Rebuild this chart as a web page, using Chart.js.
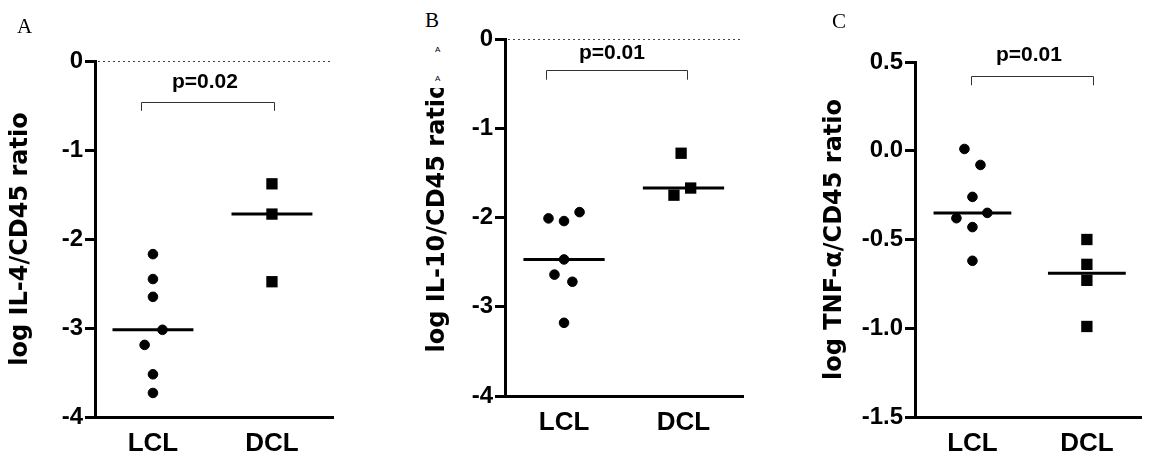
<!DOCTYPE html>
<html>
<head>
<meta charset="utf-8">
<script src="https://cdn.jsdelivr.net/npm/chart.js@4"></script>
<style>
  body { margin: 0; background: #fff; }
  #wrap { position: relative; width: 1149px; height: 461px; overflow: hidden; background: #fff; }
  canvas { position: absolute; top: 0; }
  .panel { position: absolute; font-family: "Liberation Serif", "Times New Roman", serif; font-size: 21px; line-height: 1; color: #000; z-index: 3; }
  .tiny { position: absolute; font-family: "Liberation Sans", Arial, sans-serif; font-size: 8px; line-height: 1; color: #000; z-index: 3; }
  #mask { position: absolute; left: 420px; top: 0; width: 45px; height: 88px; background: #fff; z-index: 2; }
</style>
</head>
<body>
<div id="wrap">
  <canvas id="chartA" width="380" height="461" style="left:0"></canvas>
  <canvas id="chartB" width="380" height="461" style="left:380px"></canvas>
  <canvas id="chartC" width="389" height="461" style="left:760px"></canvas>
  <div id="mask"></div>
  <div class="panel" style="left:17px;top:16px">A</div>
  <div class="panel" style="left:425px;top:10px">B</div>
  <div class="panel" style="left:832px;top:11px">C</div>
  <div class="tiny" style="left:435px;top:46px">A</div>
  <div class="tiny" style="left:435px;top:75px">A</div>
</div>
<script>
const categories = ["LCL", "DCL"];

// Panel A - IL-4
const il4Lcl = [-2.17, -2.45, -2.65, -3.02, -3.19, -3.52, -3.73];
const il4LclJitter = [0, 0, 0, 0.08, -0.07, 0, 0];
const il4Dcl = [-1.38, -1.72, -2.48];
const il4DclJitter = [0, 0, 0];
const il4Medians = [-3.02, -1.72];

// Panel B - IL-10
const il10Lcl = [-2.01, -2.04, -1.94, -2.47, -2.64, -2.72, -3.18];
const il10LclJitter = [-0.13, 0, 0.13, 0, -0.08, 0.07, 0];
const il10Dcl = [-1.28, -1.67, -1.75];
const il10DclJitter = [-0.02, 0.06, -0.08];
const il10Medians = [-2.47, -1.67];

// Panel C - TNF-alpha
const tnfLcl = [0.01, -0.08, -0.26, -0.35, -0.38, -0.43, -0.62];
const tnfLclJitter = [-0.07, 0.07, 0, 0.13, -0.14, 0, 0];
const tnfDcl = [-0.5, -0.64, -0.73, -0.99];
const tnfDclJitter = [0, 0, 0, 0];
const tnfMedians = [-0.35, -0.69];

const pLabels = ["p=0.02", "p=0.01", "p=0.01"];

Chart.defaults.font.family = "'Liberation Sans', Arial, sans-serif";
Chart.defaults.color = "#000";

// draws dotted zero line, the bracket and the p value
const bracketPlugin = {
  id: "bracket",
  afterDraw(chart, args, o) {
    const { ctx } = chart;
    const x = chart.scales.x;
    const y = chart.scales.y;
    ctx.save();
    if (o.zeroLine) {
      const py = Math.round(y.getPixelForValue(0)) + 0.5;
      ctx.strokeStyle = "#444";
      ctx.lineWidth = 1;
      ctx.setLineDash([2, 3]);
      ctx.beginPath();
      ctx.moveTo(x.left + 3, py);
      ctx.lineTo(x.right, py);
      ctx.stroke();
      ctx.setLineDash([]);
    }
    const x1 = Math.round(x.getPixelForValue(o.from)) + 0.5;
    const x2 = Math.round(x.getPixelForValue(o.to)) + 0.5;
    const yTop = Math.round(y.getPixelForValue(o.top)) + 0.5;
    const yLow = y.getPixelForValue(o.low);
    ctx.strokeStyle = "#333";
    ctx.lineWidth = 1;
    ctx.beginPath();
    ctx.moveTo(x1, yLow);
    ctx.lineTo(x1, yTop);
    ctx.lineTo(x2, yTop);
    ctx.lineTo(x2, yLow);
    ctx.stroke();
    ctx.fillStyle = "#000";
    ctx.font = "bold 21px 'Liberation Sans', Arial, sans-serif";
    ctx.textAlign = "center";
    ctx.textBaseline = "middle";
    ctx.fillText(o.label, x.getPixelForValue(o.labelX), y.getPixelForValue(o.labelY));
    ctx.restore();
  }
};

function makePanel(id, cfg) {
  const lclPts = cfg.lcl.map((v, i) => ({ x: 1 + cfg.lclJitter[i], y: v }));
  const dclPts = cfg.dcl.map((v, i) => ({ x: 2 + cfg.dclJitter[i], y: v }));
  const half = 0.34;
  const medLine = (c, m) => [{ x: c - half, y: m }, { x: c + half, y: m }];

  new Chart(document.getElementById(id), {
    type: "scatter",
    data: {
      datasets: [
        {
          data: lclPts,
          pointStyle: "circle",
          pointRadius: 4.8,
          borderWidth: 1,
          backgroundColor: "#000",
          borderColor: "#000",
          clip: false
        },
        {
          data: dclPts,
          pointStyle: "rect",
          pointRadius: 8,
          borderWidth: 0,
          backgroundColor: "#000",
          borderColor: "#000",
          clip: false
        },
        {
          data: medLine(1, cfg.medians[0]),
          showLine: true,
          pointRadius: 0,
          borderColor: "#000",
          borderWidth: 3,
          clip: false
        },
        {
          data: medLine(2, cfg.medians[1]),
          showLine: true,
          pointRadius: 0,
          borderColor: "#000",
          borderWidth: 3,
          clip: false
        }
      ]
    },
    options: {
      responsive: false,
      animation: false,
      events: [],
      layout: { padding: cfg.padding },
      plugins: {
        legend: { display: false },
        tooltip: { enabled: false },
        bracket: cfg.bracket
      },
      scales: {
        x: {
          type: "linear",
          min: cfg.xMin,
          max: cfg.xMax,
          afterBuildTicks: (s) => {
            s.ticks = categories.map((c, i) => ({ value: i + 1 }));
          },
          ticks: {
            callback: (v) => categories[v - 1],
            color: "#000",
            font: { size: 26, weight: "bold" },
            padding: 11,
            autoSkip: false,
            maxRotation: 0
          },
          grid: { display: false, drawTicks: false },
          border: { display: true, width: 3, color: "#000" },
          afterFit: (s) => { s.height = cfg.xHeight; }
        },
        y: {
          min: cfg.yMin,
          max: cfg.yMax,
          ticks: {
            stepSize: cfg.yStep,
            color: "#000",
            font: { size: 24, weight: "bold" },
            padding: 2,
            callback: cfg.yFormat
          },
          grid: {
            drawOnChartArea: false,
            drawTicks: true,
            tickLength: 10,
            lineWidth: 3,
            color: "#000"
          },
          border: { display: true, width: 3, color: "#000" },
          title: {
            display: true,
            text: cfg.title,
            color: "#000",
            font: { family: "'DejaVu Sans', sans-serif", size: 24, weight: "bold" },
            padding: { top: cfg.titlePad, bottom: 0 }
          },
          afterFit: (s) => { s.width = cfg.yWidth; }
        }
      }
    },
    plugins: [bracketPlugin]
  });
}

makePanel("chartA", {
  lcl: il4Lcl, lclJitter: il4LclJitter,
  dcl: il4Dcl, dclJitter: il4DclJitter,
  medians: il4Medians,
  xMin: 0.513, xMax: 2.513,
  yMin: -4, yMax: 0, yStep: 1,
  yFormat: (v) => String(v),
  title: "log IL-4/CD45 ratio",
  titlePad: 6,
  yWidth: 95, xHeight: 44,
  padding: { left: 0, top: 61, right: 47, bottom: 0 },
  bracket: { zeroLine: true, from: 0.9, to: 2.017, top: -0.458, low: -0.56, label: pLabels[0], labelX: 1.437, labelY: -0.24 }
});

makePanel("chartB", {
  lcl: il10Lcl, lclJitter: il10LclJitter,
  dcl: il10Dcl, dclJitter: il10DclJitter,
  medians: il10Medians,
  xMin: 0.506, xMax: 2.498,
  yMin: -4, yMax: 0, yStep: 1,
  yFormat: (v) => String(v),
  title: "log IL-10/CD45 ratio",
  titlePad: 43,
  yWidth: 125, xHeight: 65,
  padding: { left: 0, top: 39, right: 17, bottom: 0 },
  bracket: { zeroLine: true, from: 0.849, to: 2.029, top: -0.344, low: -0.456, label: pLabels[1], labelX: 1.401, labelY: -0.154 }
});

makePanel("chartC", {
  lcl: tnfLcl, lclJitter: tnfLclJitter,
  dcl: tnfDcl, dclJitter: tnfDclJitter,
  medians: tnfMedians,
  xMin: 0.498, xMax: 2.473,
  yMin: -1.5, yMax: 0.5, yStep: 0.5,
  yFormat: (v) => v.toFixed(1),
  title: "log TNF-α/CD45 ratio",
  titlePad: 60,
  yWidth: 155, xHeight: 44,
  padding: { left: 0, top: 62, right: 0, bottom: 0 },
  bracket: { zeroLine: false, from: 0.985, to: 2.053, top: 0.419, low: 0.369, label: pLabels[2], labelX: 1.494, labelY: 0.538 }
});
</script>
</body>
</html>
